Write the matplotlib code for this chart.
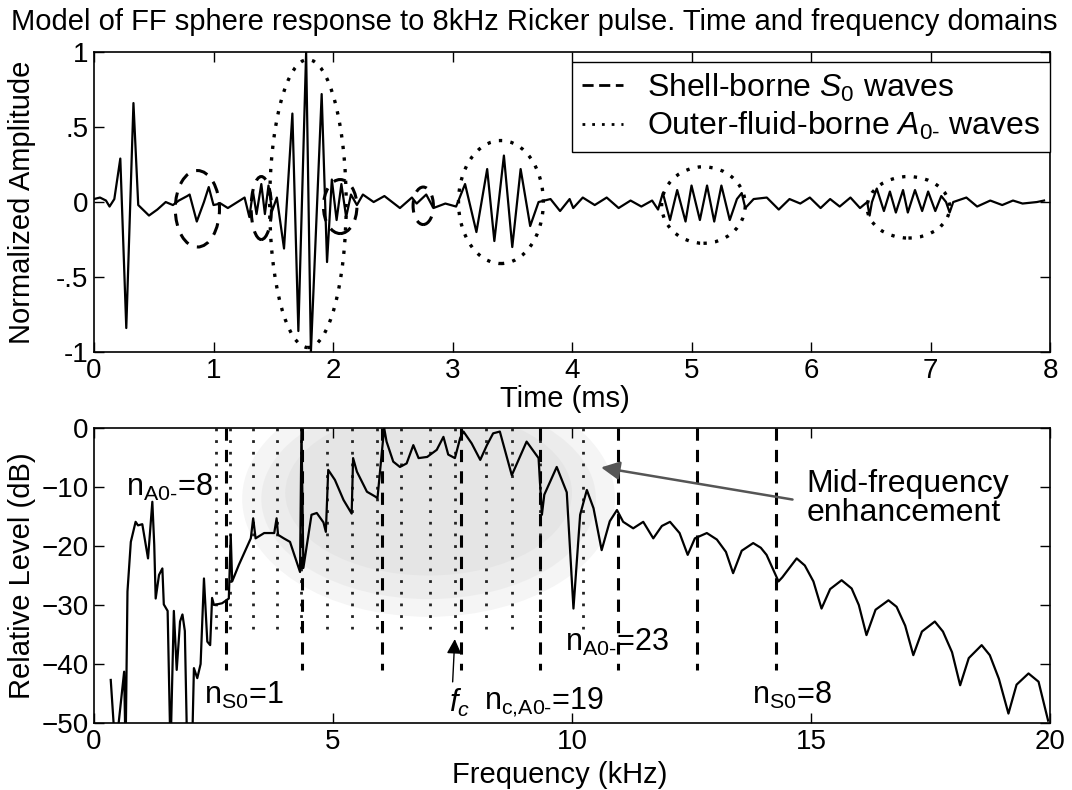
import matplotlib
matplotlib.use("Agg")
import matplotlib.pyplot as plt
from matplotlib.patches import Ellipse

# --- time domain (ms, normalized amplitude), peaks/troughs
time_ms = [0.00, 0.05, 0.10, 0.13, 0.17, 0.22, 0.27, 0.33, 0.37, 0.46, 0.53, 0.60,
           0.66, 0.71, 0.78, 0.80, 0.86, 0.92, 0.96, 1.00, 1.06, 1.12, 1.20, 1.26,
           1.30, 1.33, 1.36, 1.40, 1.43, 1.46, 1.49, 1.53, 1.59, 1.66, 1.71, 1.775,
           1.815, 1.905, 1.95, 1.99, 2.03, 2.07, 2.11, 2.15, 2.20, 2.25, 2.34, 2.43,
           2.56, 2.66, 2.70, 2.78, 2.84, 2.94, 3.03, 3.105, 3.20, 3.29, 3.35, 3.43,
           3.50, 3.57, 3.65, 3.72, 3.82, 3.90, 3.98, 4.01, 4.09, 4.19, 4.29, 4.39,
           4.49, 4.58, 4.67, 4.72, 4.76, 4.82, 4.88, 4.95, 5.00, 5.07, 5.13, 5.19,
           5.25, 5.32, 5.38, 5.42, 5.45, 5.52, 5.63, 5.73, 5.82, 5.91, 5.99, 6.08,
           6.16, 6.24, 6.33, 6.41, 6.47, 6.49, 6.51, 6.55, 6.61, 6.66, 6.71, 6.77,
           6.81, 6.87, 6.93, 6.98, 7.04, 7.09, 7.13, 7.16, 7.19, 7.30, 7.39, 7.50,
           7.60, 7.69, 7.77, 7.89, 7.95]
amplitude = [0.02, 0.03, 0.01, -0.03, 0.02, 0.29, -0.84, 0.66, -0.02, -0.09, -0.05, 0.00,
             -0.02, 0.01, 0.04, 0.05, -0.13, 0.00, 0.10, -0.02, -0.01, -0.04, 0.00, 0.03,
             -0.10, 0.07, -0.08, 0.12, -0.08, 0.11, -0.06, 0.03, -0.31, 0.59, -0.86, 1.00,
             -1.00, 0.72, -0.40, 0.15, -0.12, 0.12, -0.10, 0.05, -0.02, 0.05, 0.00, 0.04,
             -0.04, 0.03, -0.01, 0.05, -0.04, -0.01, -0.03, 0.12, -0.20, 0.22, -0.26, 0.31,
             -0.30, 0.22, -0.16, 0.00, 0.02, -0.06, 0.02, -0.04, 0.03, -0.02, 0.03, -0.04,
             0.01, -0.03, 0.01, -0.05, 0.06, -0.12, 0.08, -0.13, 0.11, -0.12, 0.11, -0.13,
             0.11, -0.12, 0.02, 0.06, -0.04, 0.02, 0.03, -0.05, 0.02, -0.01, 0.03, -0.04,
             0.02, -0.03, 0.03, -0.04, 0.00, -0.09, 0.00, 0.09, -0.06, 0.07, -0.07, 0.08,
             -0.07, 0.08, -0.06, 0.07, -0.06, 0.04, 0.00, -0.07, 0.00, 0.03, -0.03, 0.01,
             -0.02, 0.01, -0.01, 0.00, 0.01]

# wave groups circled in the time trace: (centre t, centre amp, width, height)
s0_groups = [(0.865, -0.045, 0.37, 0.51), (1.40, -0.04, 0.17, 0.42),
             (2.06, -0.03, 0.28, 0.36), (2.755, -0.025, 0.17, 0.25)]
a0_groups = [(1.79, -0.01, 0.64, 1.92), (3.405, 0.0, 0.71, 0.82),
             (5.10, -0.02, 0.70, 0.51), (6.815, -0.035, 0.69, 0.41)]

# --- frequency domain (kHz, dB)
freq_khz = [0.35, 0.45, 0.63, 0.66, 0.70, 0.77, 0.87, 0.92, 1.01, 1.13, 1.22, 1.26,
            1.29, 1.36, 1.43, 1.46, 1.54, 1.60, 1.67, 1.73, 1.80, 1.85, 1.90, 1.95,
            2.05, 2.09, 2.16, 2.23, 2.30, 2.37, 2.43, 2.47, 2.51, 2.68, 2.82, 2.86,
            2.89, 3.03, 3.28, 3.33, 3.38, 3.56, 3.77, 3.82, 3.85, 3.97, 4.10, 4.31,
            4.34, 4.38, 4.55, 4.66, 4.80, 4.85, 4.90, 5.04, 5.22, 5.39, 5.42, 5.50,
            5.71, 5.88, 5.93, 6.07, 6.12, 6.26, 6.40, 6.54, 6.68, 6.79, 6.97, 7.17,
            7.31, 7.41, 7.55, 7.66, 7.73, 7.90, 8.08, 8.22, 8.35, 8.49, 8.74, 9.05,
            9.30, 9.37, 9.42, 9.68, 9.89, 10.03, 10.17, 10.31, 10.45, 10.62, 10.79, 10.94,
            11.07, 11.28, 11.49, 11.70, 11.88, 12.05, 12.25, 12.42, 12.57, 12.82, 13.03, 13.22,
            13.37, 13.55, 13.79, 13.95, 14.07, 14.32, 14.40, 14.70, 14.87, 15.05, 15.22, 15.40,
            15.64, 15.85, 16.00, 16.16, 16.35, 16.62, 16.79, 16.97, 17.14, 17.32, 17.59, 17.76,
            17.95, 18.12, 18.30, 18.57, 18.74, 18.93, 19.13, 19.30, 19.55, 19.76, 19.96]
level_db = [-42.7, -55, -41.3, -55, -27.7, -19.3, -15.9, -16.5, -16.3, -22.1, -12.5, -19.8,
            -28.9, -24.9, -23.8, -29.9, -31.0, -55, -31.0, -41.0, -32.8, -31.6, -34.4, -55,
            -55, -40.7, -42.4, -40.0, -25.5, -36.2, -36.8, -28.8, -30.0, -29.7, -28.9, -18.1,
            -26.0, -23.2, -18.7, -15.3, -18.7, -17.8, -17.8, -15.3, -18.1, -18.7, -19.3, -24.4,
            0.0, -23.7, -14.7, -14.4, -16.0, -17.6, -7.1, -8.8, -12.2, -14.5, -5.1, -7.4,
            -10.8, -11.6, -11.9, 0.0, -2.3, -5.7, -6.6, -6.0, -2.9, -5.1, -4.9, -3.7,
            -1.5, -4.5, -5.1, -1.7, -0.6, -2.6, -5.4, -2.9, -0.9, -0.6, -8.0, -2.3,
            -5.1, -14.7, -11.3, -6.6, -10.9, -30.6, -14.7, -10.5, -13.6, -20.7, -15.8, -13.9,
            -15.9, -17.0, -15.9, -18.7, -16.6, -15.9, -17.8, -21.5, -18.7, -17.8, -18.9, -21.0,
            -24.6, -20.8, -19.5, -20.3, -21.5, -26.0, -25.3, -22.1, -23.3, -26.0, -30.6, -27.3,
            -25.8, -27.2, -30.0, -35.1, -30.8, -29.2, -30.3, -33.5, -38.5, -34.5, -32.8, -34.5,
            -38.0, -43.6, -39.0, -36.8, -38.5, -42.5, -48.4, -43.5, -41.6, -43.0, -49.6]

# resonance markers
s0_freqs = [2.76, 4.36, 6.02, 7.67, 9.33, 10.97, 12.61, 14.27]
a0_freqs = [2.55, 2.85, 3.33, 3.83, 4.33, 4.87, 5.40, 5.93, 6.43, 7.02, 7.55, 8.19,
            8.74, 9.33, 10.24]

amp_ticks = [1, 0.5, 0, -0.5, -1]
amp_ticklabels = ["1", ".5", "0", "-.5", "-1"]

plt.rcParams['font.family'] = ['Liberation Sans', 'DejaVu Sans']
plt.rcParams['mathtext.fontset'] = 'custom'
plt.rcParams['mathtext.rm'] = 'Liberation Sans'
plt.rcParams['mathtext.it'] = 'Liberation Sans:italic'
plt.rcParams['mathtext.bf'] = 'Liberation Sans:bold'

FS = 21      # title / axis labels
TS = 20      # tick labels
AS = 22      # in-plot annotations

fig = plt.figure(figsize=(10.72, 7.9), dpi=100)
ax1 = fig.add_axes([0.0877, 0.5544, 0.8918, 0.3797])
ax2 = fig.add_axes([0.0877, 0.0848, 0.8918, 0.3734])

fig.text(0.498, 1 - 22 / 790,
         "Model of FF sphere response to 8kHz Ricker pulse. Time and frequency domains",
         ha='center', va='center', fontsize=FS)

# ---- top: time trace
ax1.plot(time_ms, amplitude, color='black', lw=1.6)
for cx, cy, w, h in s0_groups:
    ax1.add_patch(Ellipse((cx, cy), w, h, fill=False, ec='black', lw=2.2,
                          linestyle=(0, (4, 3))))
for cx, cy, w, h in a0_groups:
    ax1.add_patch(Ellipse((cx, cy), w, h, fill=False, ec='black', lw=2.4,
                          linestyle=(0, (1, 2.5))))

ax1.plot([], [], color='black', lw=2, linestyle=(0, (4, 2)),
         label=r"Shell-borne $\mathit{S_0}$ waves")
ax1.plot([], [], color='black', lw=2, linestyle=(0, (1, 2.5)),
         label=r"Outer-fluid-borne $\mathit{A_{0\text{-}}}$ waves")
leg = ax1.legend(loc='upper right', bbox_to_anchor=(1.0, 0.967), fontsize=23,
                 frameon=True, fancybox=False, framealpha=1, edgecolor='black',
                 handlelength=1.3, borderpad=0.3, labelspacing=0.2, handletextpad=0.75,
                 borderaxespad=0.0)
leg.get_frame().set_linewidth(1.0)

ax1.set_xlim(0, 8)
ax1.set_ylim(-1, 1)
ax1.set_xticks(range(0, 9))
ax1.set_yticks(amp_ticks)
ax1.set_yticklabels(amp_ticklabels)
ax1.set_xlabel("Time (ms)", fontsize=FS)
ax1.xaxis.set_label_coords(0.493, -0.11)
ax1.set_ylabel("Normalized Amplitude", fontsize=FS)
ax1.yaxis.set_label_coords(-0.061, 0.5)

# ---- bottom: spectrum
ax2.add_patch(Ellipse((7.0, -12), 7.8, 40, color='#c8c8c8', alpha=0.18, lw=0))
ax2.add_patch(Ellipse((7.0, -12), 7.0, 34, color='#c8c8c8', alpha=0.18, lw=0))
ax2.add_patch(Ellipse((7.0, -11), 6.0, 28, color='#c8c8c8', alpha=0.18, lw=0))
for f in a0_freqs:
    ax2.plot([f, f], [0, -34], color='#222222', lw=2.0, linestyle=(0, (1, 3.2)))
for f in s0_freqs:
    ax2.plot([f, f], [0, -41], color='black', lw=2.2, linestyle=(0, (4, 3)))
ax2.plot(freq_khz, level_db, color='black', lw=1.6)

ax2.text(0.66, -10, r"n$_{\mathrm{A0\text{-}}}$=8", fontsize=AS, va='center', ha='left')
ax2.text(2.30, -45.3, r"n$_{\mathrm{S0}}$=1", fontsize=AS, va='center', ha='left')
ax2.text(7.42, -46.6, r"$f_c$", fontsize=AS, va='center', ha='left')
ax2.text(8.15, -46.5, r"n$_{\mathrm{c{,}A0\text{-}}}$=19", fontsize=AS, va='center', ha='left')
ax2.text(9.85, -36.4, r"n$_{\mathrm{A0\text{-}}}$=23", fontsize=AS, va='center', ha='left')
ax2.text(13.76, -45.3, r"n$_{\mathrm{S0}}$=8", fontsize=AS, va='center', ha='left')
ax2.text(14.9, -11.9, "Mid-frequency\nenhancement", fontsize=AS + 1, va='center',
         ha='left', linespacing=0.95)

ax2.annotate("", xy=(7.55, -35.3), xytext=(7.50, -43.5),
             arrowprops=dict(arrowstyle='-|>', color='black', lw=1.0, mutation_scale=22))
ax2.annotate("", xy=(10.55, -6.6), xytext=(14.67, -12.2),
             arrowprops=dict(arrowstyle='-|>', color='#555555', lw=1.8, mutation_scale=28))

ax2.set_xlim(0, 20)
ax2.set_ylim(-50, 0)
ax2.set_xticks([0, 5, 10, 15, 20])
ax2.set_yticks([0, -10, -20, -30, -40, -50])
ax2.set_xlabel("Frequency (kHz)", fontsize=FS)
ax2.xaxis.set_label_coords(0.487, -0.128)
ax2.set_ylabel("Relative Level (dB)", fontsize=FS)
ax2.yaxis.set_label_coords(-0.061, 0.5)

for ax in (ax1, ax2):
    ax.tick_params(direction='in', top=True, right=True, length=7, width=1.0,
                   labelsize=TS, pad=4)
    for sp in ax.spines.values():
        sp.set_linewidth(1.2)

fig.savefig("out.png", dpi=100)
